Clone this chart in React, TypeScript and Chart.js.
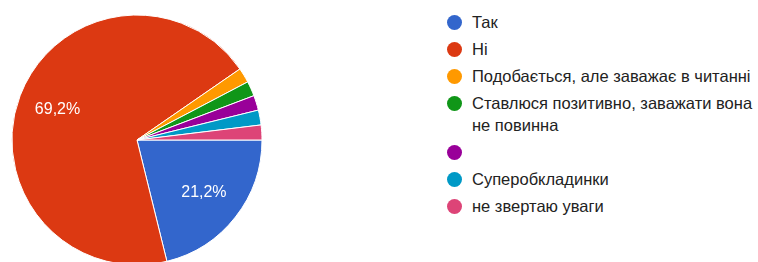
import React, { useEffect, useRef } from "react";
import { Chart, registerables } from "chart.js";

Chart.register(...registerables);

const labels: string[] = [
  "Так",
  "Ні",
  "Подобається, але заважає в читанні",
  "Ставлюся позитивно, заважати вона не повинна",
  "",
  "Суперобкладинки",
  "не звертаю уваги",
];
const counts: number[] = [11, 36, 1, 1, 1, 1, 1];
const colors: string[] = ["#3366cc", "#dc3912", "#ff9900", "#109618", "#990099", "#0099c6", "#dd4477"];

const FONT = "'Liberation Sans', Arial, sans-serif";

const pctLabels = {
  id: "pctLabels",
  afterDatasetsDraw(chart: any) {
    const ctx = chart.ctx;
    const meta = chart.getDatasetMeta(0);
    const data = chart.data.datasets[0].data as number[];
    const total = data.reduce((a, b) => a + b, 0);
    ctx.save();
    ctx.fillStyle = "#ffffff";
    ctx.font = `16px ${FONT}`;
    ctx.textAlign = "center";
    ctx.textBaseline = "middle";
    meta.data.forEach((arc: any, i: number) => {
      const pct = (data[i] / total) * 100;
      if (pct < 5) return;
      const { x, y, startAngle, endAngle, outerRadius } = arc.getProps(
        ["x", "y", "startAngle", "endAngle", "outerRadius"],
        true
      );
      const mid = (startAngle + endAngle) / 2;
      const r = outerRadius * 0.68;
      const txt = pct.toFixed(1).replace(".", ",") + "%";
      ctx.fillText(txt, x + Math.cos(mid) * r, y + Math.sin(mid) * r);
    });
    ctx.restore();
  },
};

export default function App() {
  const ref = useRef<HTMLCanvasElement | null>(null);
  useEffect(() => {
    if (!ref.current) return;
    const chart = new Chart(ref.current, {
      type: "pie",
      data: {
        labels,
        datasets: [
          {
            data: counts,
            backgroundColor: colors,
            borderColor: "#ffffff",
            borderWidth: 1,
          },
        ],
      },
      options: {
        responsive: false,
        animation: false,
        rotation: 90,
        radius: 125,
        layout: { padding: 0 },
        plugins: { legend: { display: false }, tooltip: { enabled: false } },
      },
      plugins: [pctLabels],
    });
    return () => chart.destroy();
  }, []);

  return (
    <div style={{ position: "fixed", left: 0, top: 0, width: 758, height: 262, background: "#fff", overflow: "hidden" }}>
      <canvas ref={ref} width={274} height={280} style={{ position: "absolute", left: 0, top: 0 }} />
      <div
        style={{
          position: "absolute",
          left: 447,
          top: 12,
          width: 311,
          display: "flex",
          flexDirection: "column",
          gap: 5.5,
          fontFamily: FONT,
          fontSize: 16.5,
          lineHeight: "21.5px",
          color: "#222222",
        }}
      >
        {labels.map((l, i) => (
          <div key={i} style={{ display: "flex", alignItems: "flex-start", minHeight: 21.5 }}>
            <span
              style={{
                width: 15,
                height: 15,
                borderRadius: "50%",
                background: colors[i],
                flex: "0 0 15px",
                marginTop: 3,
                marginRight: 10,
              }}
            />
            <span style={{ width: 292, flex: "0 0 292px" }}>{l}</span>
          </div>
        ))}
      </div>
    </div>
  );
}
